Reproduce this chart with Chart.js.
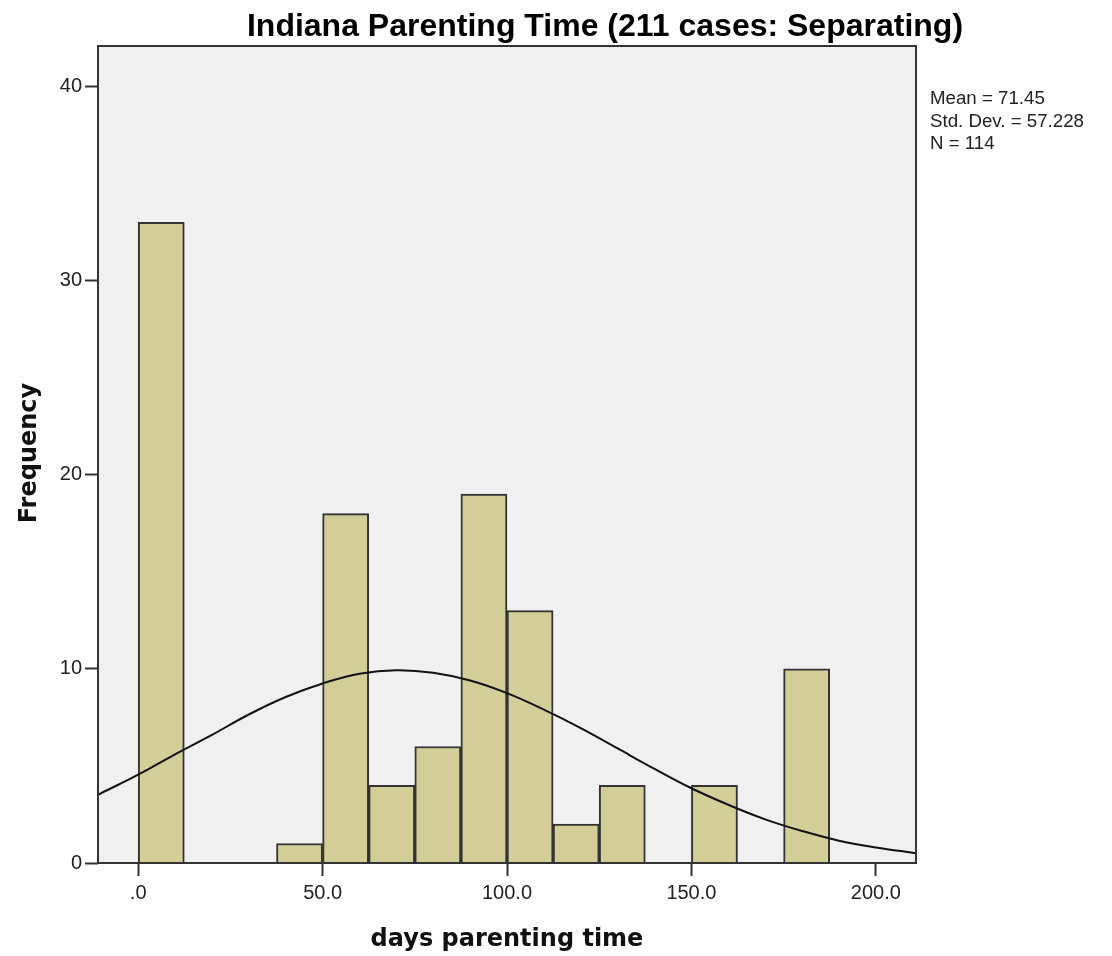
<!DOCTYPE html>
<html>
<head>
<meta charset="utf-8">
<script src="https://cdn.jsdelivr.net/npm/chart.js@4/dist/chart.umd.min.js"></script>
<style>
  body { margin: 0; background: #fff; }
  canvas { display: block; }
</style>
</head>
<body>
<canvas id="histChart" width="1112" height="956"></canvas>
<script>
// bin start (days) and count per 12.5-day bin
const binStarts = [0, 37.5, 50, 62.5, 75, 87.5, 100, 112.5, 125, 150, 175];
const binCounts = [33, 1, 18, 4, 6, 19, 13, 2, 4, 4, 10];
const binWidth = 12.5;

// normal curve
const curveX = [-11, -10, 0, 10, 20, 30, 40, 50, 60, 70, 80, 90, 100, 110, 120, 130, 140, 150, 160, 170, 180, 190, 200, 210, 211];
const curveY = [3.5, 3.6, 4.55, 5.6, 6.6, 7.65, 8.55, 9.25, 9.75, 9.93, 9.8, 9.4, 8.75, 7.9, 6.95, 5.9, 4.85, 3.85, 3.0, 2.25, 1.65, 1.15, 0.8, 0.53, 0.51];

const xTicks = [0, 50, 100, 150, 200];
const yTicks = [0, 10, 20, 30, 40];

const titleText = 'Indiana Parenting Time (211 cases: Separating)';
const statsLines = ['Mean = 71.45', 'Std. Dev. = 57.228', 'N = 114'];
const xTitle = 'days parenting time';
const yTitle = 'Frequency';

const spssPlugin = {
    id: 'spssDecor',
    beforeDraw: (chart) => {
        const ctx = chart.ctx;
        const a = chart.chartArea;
        ctx.save();
        ctx.fillStyle = '#ffffff';
        ctx.fillRect(0, 0, chart.width, chart.height);
        ctx.fillStyle = '#f0f0f0';
        ctx.fillRect(a.left, a.top, a.right - a.left, a.bottom - a.top);
        ctx.restore();
    },
    afterDraw: (chart) => {
        const ctx = chart.ctx;
        const a = chart.chartArea;
        ctx.save();
        // frame
        ctx.strokeStyle = '#333';
        ctx.lineWidth = 2;
        ctx.strokeRect(a.left, a.top, a.right - a.left, a.bottom - a.top);

        // title
        ctx.fillStyle = '#000';
        ctx.font = 'bold 32px "Liberation Sans", Arial, sans-serif';
        ctx.textAlign = 'center';
        ctx.textBaseline = 'alphabetic';
        ctx.fillText(titleText, 605, 36);

        // stats box
        ctx.fillStyle = '#222';
        ctx.font = '18.7px "Liberation Sans", Arial, sans-serif';
        ctx.textAlign = 'left';
        statsLines.forEach((s, i) => ctx.fillText(s, 930, 104 + i * 22.7));

        // axis titles
        ctx.fillStyle = '#111';
        ctx.font = 'bold 24px "DejaVu Sans", sans-serif';
        ctx.textAlign = 'center';
        ctx.fillText(xTitle, 507, 946);
        ctx.translate(36, 453);
        ctx.rotate(-Math.PI / 2);
        ctx.fillText(yTitle, 0, 0);
        ctx.restore();
    }
};

const ctx = document.getElementById('histChart').getContext('2d');
new Chart(ctx, {
    type: 'bar',
    data: {
        datasets: [{
            type: 'bar',
            label: 'Frequency',
            data: binStarts.map((s, i) => ({ x: s + binWidth / 2, y: binCounts[i] })),
            backgroundColor: '#d3ce97',
            borderColor: '#333',
            borderWidth: 2,
            barPercentage: 1.0,
            categoryPercentage: 1.0,
            order: 2
        }, {
            type: 'line',
            label: 'Normal',
            data: curveX.map((x, i) => ({ x: x, y: curveY[i] })),
            borderColor: '#111',
            borderWidth: 2,
            pointRadius: 0,
            fill: false,
            tension: 0.4,
            order: 1
        }]
    },
    options: {
        responsive: false,
        animation: false,
        layout: { padding: { top: 46, right: 196, left: 0, bottom: 0 } },
        plugins: {
            legend: { display: false },
            tooltip: { enabled: false }
        },
        scales: {
            x: {
                type: 'linear',
                min: -10.9,
                max: 210.9,
                offset: false,
                afterBuildTicks: (scale) => { scale.ticks = xTicks.map(v => ({ value: v })); },
                afterFit: (scale) => { scale.height = 93; },
                ticks: {
                    color: '#222',
                    padding: 5,
                    font: { family: '"Liberation Sans", Arial, sans-serif', size: 20 },
                    callback: (v) => v === 0 ? '.0' : v.toFixed(1)
                },
                grid: { drawOnChartArea: false, drawTicks: true, tickLength: 13, tickWidth: 2, tickColor: '#333', offset: false },
                border: { display: false }
            },
            y: {
                min: 0,
                max: 42.09,
                afterBuildTicks: (scale) => { scale.ticks = yTicks.map(v => ({ value: v })); },
                afterFit: (scale) => { scale.width = 98; },
                ticks: {
                    color: '#222',
                    padding: 3,
                    font: { family: '"Liberation Sans", Arial, sans-serif', size: 20 }
                },
                grid: { drawOnChartArea: false, drawTicks: true, tickLength: 13, tickWidth: 2, tickColor: '#333' },
                border: { display: false }
            }
        }
    },
    plugins: [spssPlugin]
});
</script>
</body>
</html>
